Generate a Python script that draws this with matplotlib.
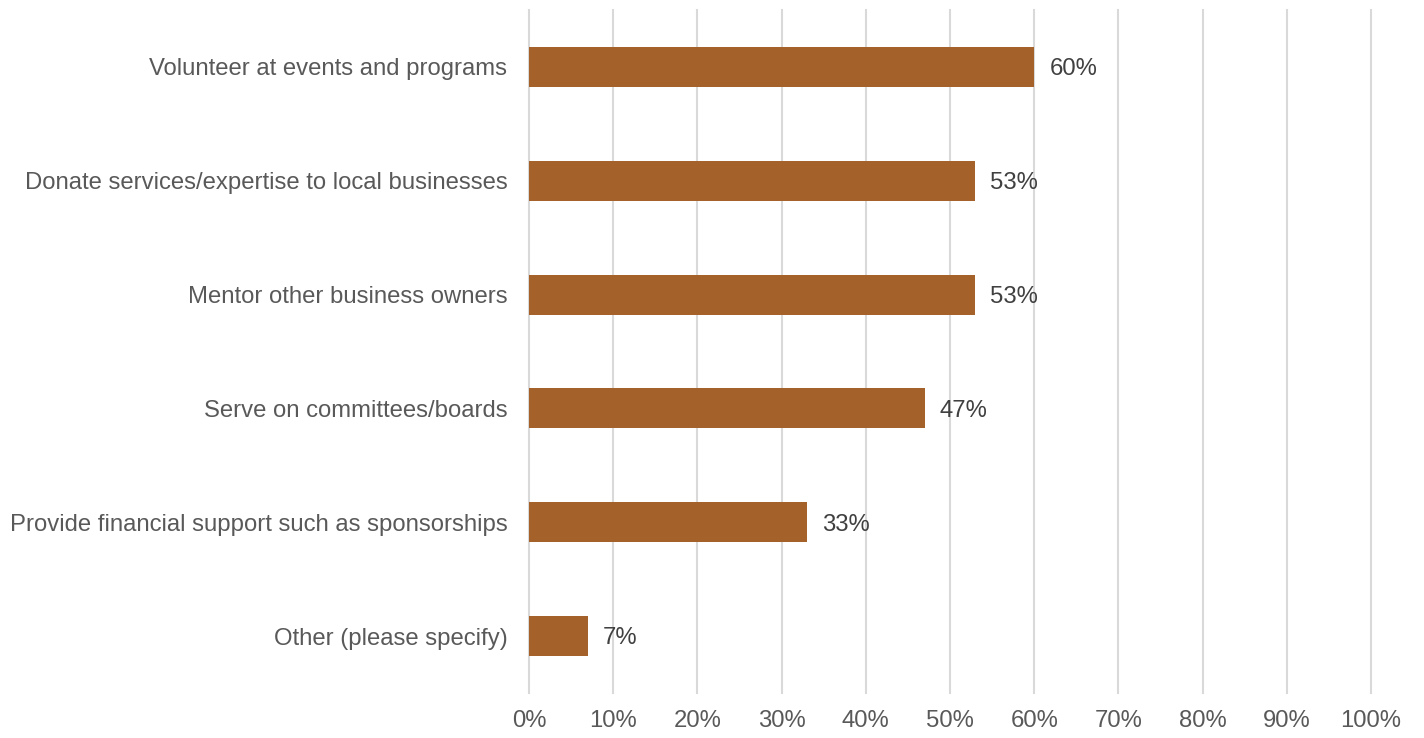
import matplotlib
matplotlib.use("Agg")
import matplotlib.pyplot as plt
from matplotlib.ticker import FuncFormatter, MultipleLocator

plt.rcParams["font.family"] = ["Liberation Sans", "DejaVu Sans"]

categories = [
    "Volunteer at events and programs",
    "Donate services/expertise to local businesses",
    "Mentor other business owners",
    "Serve on committees/boards",
    "Provide financial support such as sponsorships",
    "Other (please specify)",
]
values = [60, 53, 53, 47, 33, 7]

bar_color = "#A5612A"
label_gray = "#595959"
value_gray = "#404040"
grid_gray = "#D9D9D9"
fs = 17.2

fig = plt.figure(figsize=(14.24, 7.38), dpi=100)
ax = fig.add_axes([529 / 1424, 1 - 693 / 738, (1371 - 529) / 1424, (693 - 10) / 738])

y = list(range(len(categories)))
ax.barh(y, values, height=0.35, color=bar_color, zorder=3)
ax.set_ylim(len(categories) - 0.5, -0.5)
ax.set_yticks(y)
ax.set_yticklabels(categories, fontsize=fs, color=label_gray)

ax.set_xlim(0, 100)
ax.xaxis.set_major_locator(MultipleLocator(10))
ax.xaxis.set_major_formatter(FuncFormatter(lambda v, _: f"{v:.0f}%"))
ax.tick_params(axis="x", labelsize=fs, labelcolor=label_gray, length=0, pad=12)
ax.tick_params(axis="y", length=0, pad=15.5)

ax.grid(axis="x", color=grid_gray, linewidth=1.5, zorder=0)
for gl in ax.get_xgridlines():
    gl.set_clip_on(False)
for s in ax.spines.values():
    s.set_visible(False)

for yi, v in zip(y, values):
    ax.text(v + 1.8, yi + 0.02, f"{v}%", va="center", ha="left", fontsize=fs, color=value_gray)

fig.savefig("out.png", dpi=100, facecolor="white")
